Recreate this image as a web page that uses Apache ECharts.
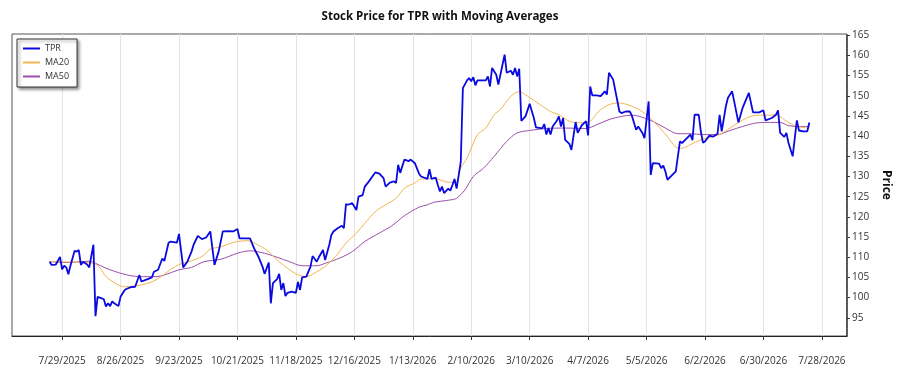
<!DOCTYPE html>
<html><head><meta charset="utf-8">
<script src="https://cdn.jsdelivr.net/npm/echarts@6/dist/echarts.min.js"></script>
<style>html,body{margin:0;padding:0;background:#fff}#c{width:900px;height:375px}</style>
</head><body><div id="c"></div>
<script>
const chartTitle = 'Stock Price for TPR with Moving Averages';
const tickDates = ['2025-07-29','2025-08-26','2025-09-23','2025-10-21','2025-11-18','2025-12-16','2026-01-13','2026-02-10','2026-03-10','2026-04-07','2026-05-05','2026-06-02','2026-06-30','2026-07-28'];
const priceTicks = [95,100,105,110,115,120,125,130,135,140,145,150,155,160,165];

const tprDates = ['2025-07-23','2025-07-24','2025-07-26','2025-07-28','2025-07-29','2025-07-30','2025-07-31','2025-08-01','2025-08-02','2025-08-04','2025-08-05','2025-08-06','2025-08-07','2025-08-08','2025-08-10','2025-08-11','2025-08-13','2025-08-14','2025-08-15','2025-08-17','2025-08-18','2025-08-19','2025-08-20','2025-08-21','2025-08-22','2025-08-23','2025-08-25','2025-08-26','2025-08-28','2025-08-29','2025-08-31','2025-09-02','2025-09-04','2025-09-05','2025-09-08','2025-09-10','2025-09-11','2025-09-13','2025-09-15','2025-09-16','2025-09-18','2025-09-19','2025-09-22','2025-09-23','2025-09-25','2025-09-27','2025-09-29','2025-09-30','2025-10-02','2025-10-04','2025-10-06','2025-10-08','2025-10-10','2025-10-12','2025-10-14','2025-10-17','2025-10-19','2025-10-21','2025-10-22','2025-10-24','2025-10-27','2025-10-29','2025-10-31','2025-11-02','2025-11-03','2025-11-05','2025-11-06','2025-11-07','2025-11-09','2025-11-10','2025-11-11','2025-11-12','2025-11-13','2025-11-14','2025-11-16','2025-11-18','2025-11-19','2025-11-20','2025-11-21','2025-11-23','2025-11-25','2025-11-26','2025-11-28','2025-11-29','2025-12-01','2025-12-02','2025-12-04','2025-12-05','2025-12-06','2025-12-08','2025-12-10','2025-12-11','2025-12-12','2025-12-13','2025-12-15','2025-12-17','2025-12-18','2025-12-20','2025-12-21','2025-12-23','2025-12-26','2025-12-28','2025-12-30','2025-12-31','2026-01-02','2026-01-04','2026-01-05','2026-01-06','2026-01-07','2026-01-09','2026-01-11','2026-01-12','2026-01-14','2026-01-16','2026-01-17','2026-01-20','2026-01-21','2026-01-22','2026-01-24','2026-01-25','2026-01-26','2026-01-27','2026-01-28','2026-01-30','2026-01-31','2026-02-01','2026-02-02','2026-02-03','2026-02-05','2026-02-06','2026-02-08','2026-02-09','2026-02-10','2026-02-11','2026-02-12','2026-02-13','2026-02-17','2026-02-18','2026-02-19','2026-02-20','2026-02-22','2026-02-23','2026-02-26','2026-02-27','2026-03-01','2026-03-02','2026-03-03','2026-03-04','2026-03-05','2026-03-06','2026-03-08','2026-03-10','2026-03-12','2026-03-13','2026-03-16','2026-03-17','2026-03-18','2026-03-19','2026-03-20','2026-03-21','2026-03-23','2026-03-24','2026-03-25','2026-03-26','2026-03-27','2026-03-29','2026-03-30','2026-04-01','2026-04-02','2026-04-04','2026-04-06','2026-04-07','2026-04-08','2026-04-09','2026-04-11','2026-04-13','2026-04-15','2026-04-16','2026-04-17','2026-04-19','2026-04-22','2026-04-23','2026-04-25','2026-04-27','2026-04-28','2026-04-30','2026-05-01','2026-05-03','2026-05-04','2026-05-06','2026-05-07','2026-05-08','2026-05-11','2026-05-12','2026-05-13','2026-05-14','2026-05-15','2026-05-17','2026-05-19','2026-05-21','2026-05-22','2026-05-24','2026-05-26','2026-05-27','2026-05-28','2026-05-30','2026-05-31','2026-06-01','2026-06-02','2026-06-04','2026-06-06','2026-06-08','2026-06-09','2026-06-10','2026-06-12','2026-06-13','2026-06-15','2026-06-18','2026-06-20','2026-06-23','2026-06-25','2026-06-28','2026-06-30','2026-07-01','2026-07-04','2026-07-06','2026-07-07','2026-07-08','2026-07-10','2026-07-11','2026-07-12','2026-07-14','2026-07-16','2026-07-17','2026-07-19','2026-07-21','2026-07-22'];
const tprValues = [108.9,108.1,108.2,110.1,107.0,107.9,107.5,105.8,107.9,111.6,111.4,111.8,108.1,108.9,108.2,107.5,113.1,95.4,100.2,99.8,99.6,97.8,98.6,97.9,99.1,98.6,97.9,100.2,101.9,102.2,102.6,102.7,105.6,104.0,104.6,105.0,106.4,106.9,109.7,109.1,113.6,113.9,113.6,115.8,107.5,108.9,111.4,113.1,115.3,114.5,114.9,116.4,108.1,111.4,116.4,116.5,116.4,117.0,114.7,114.7,114.7,112.2,110.2,107.7,105.9,108.7,98.6,103.6,104.6,105.9,101.9,103.6,100.4,101.2,101.5,101.2,103.9,101.9,105.0,105.2,107.7,110.3,108.9,110.0,111.8,109.3,113.1,115.5,116.4,117.2,117.8,117.2,123.2,123.0,123.4,121.7,125.0,125.4,127.5,128.8,131.0,130.7,129.6,127.5,128.5,128.8,128.4,132.9,130.9,134.2,133.8,134.2,133.3,130.7,130.0,129.4,131.8,129.4,129.7,127.9,126.3,127.5,125.9,127.0,126.5,127.9,129.4,127.0,133.7,151.9,153.8,154.4,153.6,154.6,152.6,153.8,153.8,154.8,152.3,156.9,155.2,152.8,160.2,155.7,156.2,155.2,156.9,154.8,156.7,143.8,144.9,148.0,144.5,142.2,141.9,143.0,140.4,142.0,140.4,142.4,143.8,144.9,142.4,144.5,139.1,138.1,136.6,143.5,140.8,142.7,143.7,140.2,152.3,150.1,150.1,149.9,151.1,150.3,155.7,154.0,146.1,145.7,146.1,146.1,145.0,141.6,142.4,140.8,139.5,148.6,130.4,133.3,133.2,132.1,132.7,131.3,129.2,130.2,131.3,138.7,138.3,139.3,140.4,139.0,145.3,145.3,141.2,138.4,138.7,140.1,139.9,140.6,145.3,141.2,147.4,149.5,151.1,143.4,147.0,150.7,145.9,145.9,146.4,143.9,144.5,145.3,146.4,140.8,139.8,140.8,138.3,135.0,143.9,141.4,141.2,141.2,143.4];

const ma20Dates = ['2025-07-23','2025-08-03','2025-08-13','2025-08-16','2025-08-19','2025-08-24','2025-08-28','2025-09-02','2025-09-07','2025-09-12','2025-09-16','2025-09-19','2025-09-24','2025-09-29','2025-10-04','2025-10-08','2025-10-13','2025-10-18','2025-10-21','2025-10-26','2025-10-31','2025-11-04','2025-11-10','2025-11-18','2025-11-23','2025-11-28','2025-12-02','2025-12-07','2025-12-12','2025-12-17','2025-12-21','2025-12-26','2025-12-31','2026-01-05','2026-01-09','2026-01-14','2026-01-17','2026-01-20','2026-01-23','2026-01-30','2026-02-03','2026-02-05','2026-02-08','2026-02-13','2026-02-17','2026-02-21','2026-02-24','2026-03-01','2026-03-05','2026-03-09','2026-03-15','2026-03-20','2026-03-24','2026-03-29','2026-04-03','2026-04-08','2026-04-12','2026-04-17','2026-04-22','2026-04-28','2026-05-04','2026-05-09','2026-05-14','2026-05-19','2026-05-22','2026-05-26','2026-05-31','2026-06-05','2026-06-09','2026-06-14','2026-06-19','2026-06-24','2026-06-28','2026-07-03','2026-07-06','2026-07-11','2026-07-16','2026-07-22'];
const ma20Values = [108.9,108.8,108.5,107.5,105.2,103.4,102.7,102.9,103.4,104.4,105.8,107.0,108.4,109.1,110.2,112.0,112.6,113.5,113.9,114.1,113.0,111.8,108.9,105.9,105.2,106.4,107.7,110.2,113.5,116.0,118.4,121.3,123.0,124.6,127.1,128.4,129.4,129.4,129.6,128.6,128.8,132.1,134.6,140.4,142.0,145.3,146.6,149.9,151.0,149.9,147.8,146.1,145.3,143.7,143.3,143.7,146.1,147.8,148.2,147.4,145.7,143.3,140.5,137.3,137.0,137.9,139.1,139.8,140.4,142.0,143.7,144.9,145.2,145.2,145.3,143.7,142.4,142.0];

const ma50Dates = ['2025-07-23','2025-07-31','2025-08-11','2025-08-14','2025-08-19','2025-08-27','2025-09-04','2025-09-12','2025-09-16','2025-09-23','2025-09-29','2025-10-05','2025-10-13','2025-10-21','2025-10-27','2025-11-03','2025-11-09','2025-11-15','2025-11-21','2025-11-28','2025-12-02','2025-12-09','2025-12-15','2025-12-21','2025-12-28','2026-01-03','2026-01-09','2026-01-16','2026-01-20','2026-01-23','2026-01-31','2026-02-03','2026-02-07','2026-02-11','2026-02-16','2026-02-21','2026-02-27','2026-03-04','2026-03-10','2026-03-18','2026-03-27','2026-04-06','2026-04-11','2026-04-17','2026-04-23','2026-04-28','2026-05-04','2026-05-09','2026-05-14','2026-05-20','2026-05-26','2026-06-01','2026-06-08','2026-06-14','2026-06-20','2026-06-27','2026-07-03','2026-07-08','2026-07-12','2026-07-17','2026-07-22'];
const ma50Values = [108.9,108.7,109.0,108.5,107.3,105.9,105.2,105.2,105.6,106.9,107.5,108.9,109.5,111.0,111.6,111.0,110.0,108.9,107.9,107.9,108.5,109.8,111.4,113.9,116.0,117.8,120.3,122.4,123.0,123.6,124.2,124.6,126.7,130.0,132.1,135.0,138.7,140.8,141.4,141.9,142.0,141.9,142.8,144.1,144.9,145.2,144.5,143.4,142.0,140.6,140.6,140.4,140.4,141.4,142.4,143.3,143.4,143.4,142.6,142.4,142.4];

const axisStart = '2025-07-05';
const axisEnd = '2026-08-09';

function toTime(s){ return new Date(s + 'T00:00:00').getTime(); }
function fmtDate(v){ const d = new Date(v); return (d.getMonth()+1) + '/' + d.getDate() + '/' + d.getFullYear(); }
function pairs(ds, vs){ return ds.map((d, i) => [toTime(d), vs[i]]); }

const tickTimes = tickDates.map(toTime);
const FONT = '"Open Sans", "Noto Sans", sans-serif';

const chart = echarts.init(document.getElementById('c'), null, {renderer: 'canvas'});
chart.setOption({
  animation: false,
  backgroundColor: '#fff',
  textStyle: {fontFamily: FONT},
  title: {
    text: chartTitle, left: 435, top: 6, textAlign: 'center',
    textStyle: {fontSize: 11.5, fontWeight: 'bold', color: '#111', fontFamily: FONT}
  },
  legend: {
    orient: 'vertical', left: 17, top: 39,
    data: ['TPR', 'MA20', 'MA50'],
    icon: 'rect', itemWidth: 17, itemHeight: 2, itemGap: 5,
    padding: [5, 8, 6, 6],
    backgroundColor: '#fff', borderColor: '#333', borderWidth: 1, borderRadius: 0,
    shadowColor: 'rgba(0,0,0,0.45)', shadowBlur: 3, shadowOffsetX: 2, shadowOffsetY: 2,
    textStyle: {fontSize: 9, color: '#333', fontFamily: FONT}
  },
  grid: {left: 12, right: 42, top: 34, bottom: 39, show: true, borderColor: '#555', borderWidth: 1, backgroundColor: 'transparent'},
  xAxis: {
    type: 'value', min: toTime(axisStart), max: toTime(axisEnd),
    axisLine: {show: true, lineStyle: {color: '#222', width: 1}},
    axisTick: {show: true, customValues: tickTimes, length: 4, lineStyle: {color: '#333'}},
    axisLabel: {customValues: tickTimes, formatter: fmtDate, margin: 20, fontSize: 10, color: '#333', fontFamily: FONT, hideOverlap: false},
    splitLine: {show: true, lineStyle: {color: '#e4e4e4', width: 1}}
  },
  yAxis: {
    type: 'value', position: 'right', min: 90.5, max: 165.3,
    name: 'Price', nameLocation: 'middle', nameRotate: -90, nameGap: 33,
    nameTextStyle: {fontSize: 12, fontWeight: 'bold', color: '#111', fontFamily: FONT},
    axisLine: {show: true, lineStyle: {color: '#333', width: 1.5, type: [1, 1]}},
    axisTick: {show: true, customValues: priceTicks, length: 3, lineStyle: {color: '#333'}},
    axisLabel: {customValues: priceTicks, fontSize: 10, color: '#333', margin: 5, fontFamily: FONT},
    splitLine: {show: false}
  },
  series: [
    {name: 'TPR', type: 'line', data: pairs(tprDates, tprValues), showSymbol: false, symbol: 'none',
     lineStyle: {color: '#0a0ae0', width: 1.8}, itemStyle: {color: '#0a0ae0'}, z: 4},
    {name: 'MA20', type: 'line', data: pairs(ma20Dates, ma20Values), showSymbol: false, symbol: 'none', smooth: 0.3,
     lineStyle: {color: '#f2b650', width: 1}, itemStyle: {color: '#f2b650'}, z: 3},
    {name: 'MA50', type: 'line', data: pairs(ma50Dates, ma50Values), showSymbol: false, symbol: 'none', smooth: 0.3,
     lineStyle: {color: '#9c4fac', width: 1}, itemStyle: {color: '#9c4fac'}, z: 2}
  ]
});
</script>
</body></html>
